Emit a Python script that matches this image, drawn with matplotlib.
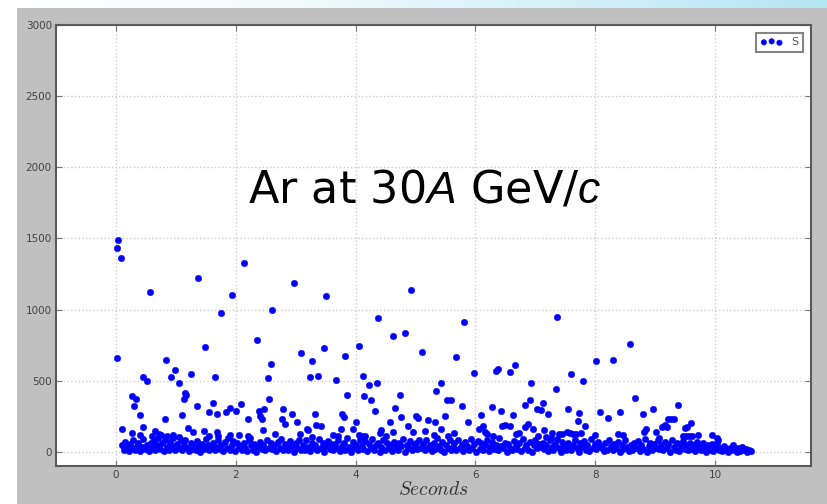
import matplotlib
matplotlib.use('Agg')
import matplotlib.pyplot as plt
import numpy as np
from matplotlib.colors import LinearSegmentedColormap
from matplotlib.patches import Rectangle
from matplotlib.ticker import MultipleLocator

# large spills (> ~400 counts)
t_peak = [0.03, 0.02, 0.08, 0.57, 1.37, 0.01, 1.49, 0.83, 0.46, 0.52, 0.92, 0.98, 1.05, 1.26, 1.66,
          2.13, 2.98, 1.94, 3.51, 1.76, 2.61, 2.35, 3.09, 3.47, 3.27, 2.59, 2.53, 3.24, 3.37,
          4.93, 4.38, 4.62, 4.82, 4.05, 3.82, 5.10, 3.68, 4.12, 4.23, 4.36, 3.86, 4.74,
          5.81, 5.67, 5.98, 6.34, 6.38, 6.57, 6.66, 6.92, 5.43, 5.35,
          7.36, 8.58, 8.01, 8.29, 7.60, 7.80, 7.34]
s_peak = [1487, 1435, 1365, 1123, 1219, 662, 739, 645, 529, 498, 527, 573, 480, 545, 527,
          1328, 1188, 1100, 1095, 976, 997, 788, 697, 727, 638, 615, 517, 524, 536,
          1135, 937, 815, 832, 741, 676, 704, 503, 534, 466, 485, 401, 396,
          909, 666, 554, 566, 580, 564, 613, 482, 482, 426,
          948, 757, 641, 648, 545, 496, 438]

# medium spills (~100-400 counts)
t_mid = [0.26, 0.34, 0.30, 0.40, 1.15, 1.17, 1.14, 1.35, 1.62, 1.55, 1.69, 1.10, 0.82, 0.10, 0.45,
         1.20, 1.29, 1.47, 0.27, 0.41, 0.65, 0.72, 0.76, 0.85, 0.60, 0.95, 1.05, 1.55,
         2.56, 2.09, 1.90, 1.84, 2.00, 2.47, 2.38, 2.40, 2.44, 2.79, 2.94, 3.32, 2.21, 2.77,
         2.82, 3.03, 2.45, 3.19, 3.34, 3.42, 1.68, 1.70, 2.66, 3.08, 3.21, 2.20, 2.24, 3.27,
         1.90, 2.05,
         4.14, 4.25, 4.33, 4.65, 3.78, 3.80, 4.75, 3.75, 3.95, 4.01, 4.58, 4.87, 5.00, 5.04,
         5.20, 4.42, 4.41, 4.63, 4.95, 5.15, 4.06, 4.10, 4.15, 3.62, 3.70, 4.50,
         5.52, 5.59, 5.78, 6.27, 6.42, 6.83, 6.91, 7.02, 5.50, 6.09, 6.62, 5.32, 5.88, 5.42,
         5.65, 6.06, 6.12, 6.45, 6.49, 6.57, 6.16, 6.20, 6.68, 6.73, 6.83, 6.88, 6.96, 5.30,
         5.55, 6.30,
         8.67, 7.13, 7.09, 7.21, 7.55, 7.72, 8.08, 8.41, 8.80, 7.71, 7.83, 8.22, 7.14, 7.27,
         7.40, 7.45, 7.52, 7.58, 7.63, 7.68, 7.76, 7.99, 8.38, 8.47, 8.81, 7.04, 7.18, 7.26,
         9.38, 8.96, 9.27, 9.22, 9.31, 9.59, 9.16, 9.20, 9.12, 9.50, 9.53, 8.84, 9.02, 9.06,
         9.46, 9.51, 9.56, 9.61, 9.71, 9.94, 10.03, 10.05]
s_mid = [389, 370, 322, 261, 415, 396, 368, 322, 340, 277, 266, 259, 231, 163, 175,
         170, 140, 147, 131, 119, 147, 125, 118, 112, 110, 120, 105, 110,
         368, 333, 305, 280, 289, 300, 287, 252, 229, 303, 268, 268, 231, 233,
         196, 208, 154, 159, 191, 180, 140, 110, 124, 122, 150, 110, 96, 105,
         120, 115,
         394, 361, 287, 305, 263, 242, 243, 158, 161, 207, 207, 184, 250, 240,
         226, 156, 135, 140, 140, 145, 118, 108, 114, 120, 110, 112,
         363, 363, 320, 312, 284, 331, 366, 300, 249, 259, 259, 210, 212, 161,
         131, 161, 184, 180, 185, 180, 136, 122, 128, 133, 177, 196, 159, 120,
         110, 110,
         375, 345, 294, 268, 298, 272, 277, 280, 263, 217, 184, 235, 150, 133,
         126, 126, 140, 135, 128, 126, 130, 121, 124, 115, 138, 110, 105, 100,
         328, 300, 230, 232, 228, 202, 190, 175, 172, 165, 175, 159, 137, 100,
         110, 110, 110, 112, 120, 116, 100, 85]

# background level (< ~100 counts)
t_floor = [0.10, 0.13, 0.15, 0.18, 0.21, 0.24, 0.26, 0.29, 0.32, 0.35, 0.37, 0.40, 0.43, 0.46, 0.49, 0.52, 0.55, 0.58,
           0.61, 0.63, 0.66, 0.69, 0.71, 0.74, 0.77, 0.80, 0.82, 0.85, 0.88, 0.90, 0.93, 0.96, 0.99, 1.02, 1.05, 1.08,
           1.11, 1.13, 1.16, 1.19, 1.22, 1.25, 1.27, 1.30, 1.33, 1.36, 1.39, 1.41, 1.44, 1.47, 1.50, 1.53, 1.56, 1.59,
           1.62, 1.65, 1.67, 1.70, 1.73, 1.76, 1.79, 1.82, 1.85, 1.87, 1.90, 1.93, 1.96, 1.99, 2.02, 2.05, 2.07,
           2.10, 2.13, 2.16, 2.19, 2.22, 2.25, 2.28, 2.31, 2.34, 2.37, 2.40, 2.43, 2.46, 2.49, 2.52, 2.55, 2.58,
           2.61, 2.64, 2.67, 2.70, 2.73, 2.76, 2.79, 2.82, 2.85, 2.88, 2.91, 2.94, 2.97, 3.00, 3.03, 3.06, 3.09,
           3.12, 3.15, 3.18, 3.21, 3.24, 3.27, 3.30, 3.33, 3.36, 3.39, 3.42, 3.45, 3.48, 3.51, 3.54, 3.57, 3.59,
           3.62, 3.65, 3.68, 3.71, 3.74, 3.77, 3.80, 3.83, 3.86, 3.89, 3.92, 3.95, 3.98, 4.01, 4.04, 4.07,
           4.10, 4.13, 4.16, 4.19, 4.22, 4.25, 4.28, 4.31, 4.34, 4.37, 4.40, 4.43, 4.46, 4.49, 4.52, 4.55, 4.58,
           4.61, 4.64, 4.67, 4.70, 4.73, 4.76, 4.79, 4.82, 4.85, 4.88, 4.91, 4.94, 4.97, 5.00, 5.03, 5.06, 5.09,
           5.12, 5.15, 5.18, 5.21, 5.24, 5.27, 5.30, 5.33, 5.36, 5.39, 5.42, 5.45, 5.48, 5.51, 5.54, 5.57, 5.59,
           5.62, 5.65, 5.68, 5.71, 5.74, 5.77, 5.80, 5.83, 5.86, 5.89, 5.92, 5.95, 5.98, 6.01, 6.04, 6.07,
           6.10, 6.13, 6.16, 6.19, 6.22, 6.25, 6.28, 6.31, 6.34, 6.37, 6.40, 6.43, 6.46, 6.49, 6.52, 6.55, 6.58,
           6.61, 6.64, 6.67, 6.70, 6.73, 6.76, 6.79, 6.82, 6.85, 6.88, 6.91, 6.94, 6.97, 7.00, 7.03, 7.06, 7.09,
           7.12, 7.15, 7.18, 7.21, 7.24, 7.27, 7.30, 7.33, 7.36, 7.39, 7.42, 7.45, 7.48, 7.51, 7.54, 7.57,
           7.60, 7.63, 7.66, 7.69, 7.72, 7.75, 7.78, 7.81, 7.84, 7.87, 7.90, 7.93, 7.96, 7.99, 8.02, 8.05, 8.08,
           8.11, 8.14, 8.17, 8.20, 8.23, 8.26, 8.29, 8.32, 8.35, 8.38, 8.41, 8.44, 8.47, 8.50, 8.53, 8.56, 8.59,
           8.62, 8.65, 8.68, 8.71, 8.74, 8.77, 8.80, 8.83, 8.86, 8.89, 8.92, 8.95, 8.98, 9.01, 9.04, 9.07,
           9.10, 9.13, 9.16, 9.19, 9.22, 9.25, 9.28, 9.31, 9.34, 9.37, 9.40, 9.43, 9.46, 9.49, 9.52, 9.55, 9.58,
           9.61, 9.64, 9.67, 9.70, 9.73, 9.76, 9.79, 9.82, 9.85, 9.88, 9.91, 9.94, 9.97, 10.00, 10.03, 10.06, 10.09,
           10.12, 10.15, 10.18, 10.21, 10.24, 10.27, 10.30, 10.33, 10.36, 10.39, 10.42, 10.45, 10.48, 10.51, 10.54, 10.57, 10.60]
s_floor = [45, 10, 70, 25, 5, 55, 30, 80, 12, 40, 60, 8, 35, 90, 20, 50, 5, 65,
           30, 75, 10, 45, 95, 20, 60, 5, 85, 35, 15, 70, 40, 100, 10, 55, 25, 80,
           15, 50, 85, 30, 5, 65, 20, 40, 10, 75, 35, 0, 55, 20, 90, 45, 10, 30,
           60, 10, 35, 85, 20, 50, 5, 70, 30, 95, 15, 45, 75, 5, 60, 25, 40,
           10, 65, 30, 5, 80, 45, 15, 55, 0, 35, 70, 20, 50, 10, 85, 30, 60,
           20, 45, 5, 70, 30, 90, 10, 55, 35, 15, 75, 40, 0, 60, 25, 85, 10,
           50, 15, 80, 35, 5, 60, 25, 45, 10, 90, 30, 65, 0, 40, 75, 20, 55,
           10, 55, 30, 80, 5, 40, 65, 15, 95, 35, 0, 70, 25, 50, 10, 85,
           40, 20, 75, 5, 55, 30, 90, 10, 45, 65, 0, 35, 80, 15, 60, 25, 50,
           5, 70, 35, 15, 60, 40, 90, 0, 50, 25, 75, 10, 45, 65, 20, 85, 30,
           55, 10, 80, 30, 45, 5, 65, 20, 95, 40, 15, 70, 0, 50, 30, 85, 10,
           35, 60, 10, 80, 25, 50, 5, 70, 40, 15, 90, 30, 55, 0, 75, 20,
           60, 15, 45, 85, 5, 35, 70, 20, 50, 10, 95, 40, 25, 65, 0, 55, 30,
           10, 75, 40, 20, 60, 5, 90, 30, 50, 15, 70, 0, 45, 80, 25, 55, 35,
           65, 20, 45, 5, 80, 35, 10, 55, 90, 25, 0, 70, 40, 15, 60, 30,
           10, 50, 85, 25, 0, 60, 35, 75, 15, 45, 5, 90, 30, 55, 20, 70, 40,
           30, 5, 60, 15, 80, 40, 10, 55, 25, 70, 0, 45, 20, 85, 35, 5, 50,
           15, 60, 30, 75, 5, 45, 20, 90, 0, 40, 65, 10, 55, 30, 80, 20,
           45, 10, 70, 25, 55, 0, 85, 35, 15, 60, 5, 40, 75, 20, 50, 10, 65,
           20, 50, 5, 70, 35, 10, 60, 25, 0, 45, 15, 55, 5, 35, 60, 10, 30,
           5, 40, 20, 0, 30, 10, 45, 15, 0, 25, 5, 35, 10, 20, 0, 15, 5]

t_all = t_peak + t_mid + t_floor
s_all = s_peak + s_mid + s_floor

plt.rcParams['mathtext.fontset'] = 'custom'
plt.rcParams['mathtext.rm'] = 'Liberation Sans'
plt.rcParams['mathtext.it'] = 'Liberation Sans:italic'

W, H = 827, 504
fig = plt.figure(figsize=(W / 100, H / 100), dpi=100, facecolor='#c0c0c0')

# slide decoration: pale blue strip on top, white margin on the left
strip = fig.add_axes([0, 1 - 8 / H, 1, 8 / H])
cmap = LinearSegmentedColormap.from_list('strip', ['#ffffff', '#f4fbfd', '#d6f1f8', '#b4e6f3'])
strip.imshow(np.linspace(0, 1, 256)[None, :], aspect='auto', cmap=cmap, extent=[0, 1, 0, 1])
strip.axis('off')
fig.add_artist(Rectangle((0, 0), 17 / W, 1 - 8 / H, transform=fig.transFigure,
                         facecolor='white', edgecolor='none'))

ax = fig.add_axes([56 / W, 38 / H, 755 / W, 441 / H])
ax.set_facecolor('white')
ax.scatter(t_all, s_all, s=22, c='blue', edgecolors='blue', linewidths=0.3, label='S', zorder=3)

ax.set_xlim(-1, 11.6)
ax.set_ylim(-100, 3000)
ax.xaxis.set_major_locator(MultipleLocator(2))
ax.yaxis.set_major_locator(MultipleLocator(500))
ax.grid(True, linestyle=':', color='#cccccc', linewidth=1.0)
ax.set_axisbelow(True)
ax.tick_params(direction='in', length=4, color='#777777', labelsize=7.5,
               labelcolor='#444444', top=True, right=True, pad=3)
for sp in ax.spines.values():
    sp.set_color('#5a5a5a')
    sp.set_linewidth(1.5)

ax.set_xlabel(r'$Seconds$', fontsize=14, math_fontfamily='cm', labelpad=0, color='#333333')

ax.text(2.2, 1750, r'Ar at 30$\mathit{A}$ GeV/$\mathit{c}$', fontsize=32, color='black')

leg = ax.legend(loc='upper right', scatterpoints=3, fontsize=8, fancybox=False,
                edgecolor='#666666', borderaxespad=0.7, handlelength=2.0, handletextpad=0.8,
                markerscale=0.85)
leg.get_frame().set_linewidth(1.5)
for txt in leg.get_texts():
    txt.set_color('#555555')

fig.savefig('out.png', dpi=100, facecolor=fig.get_facecolor())
